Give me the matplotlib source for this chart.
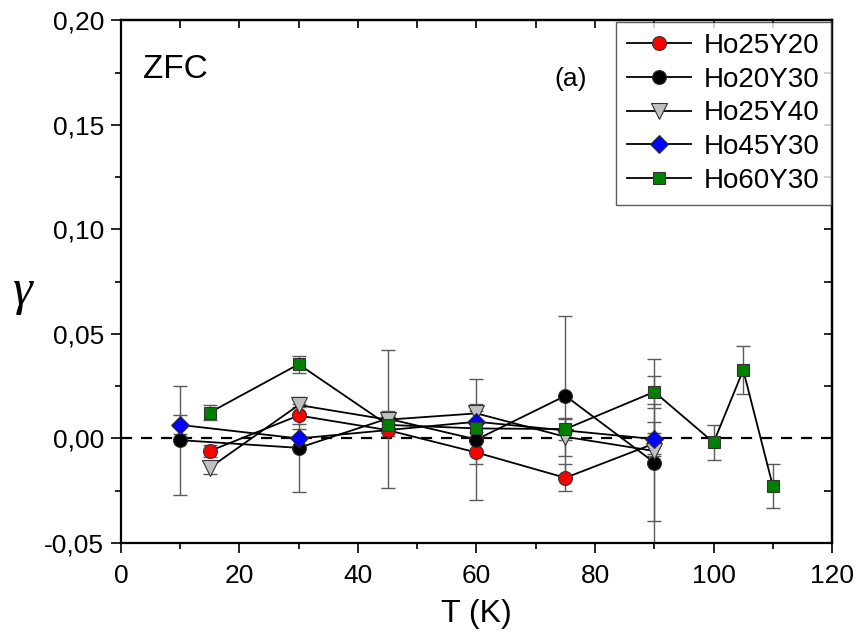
import numpy as np
import matplotlib
matplotlib.use("Agg")
import matplotlib.pyplot as plt
from matplotlib.ticker import MultipleLocator, FuncFormatter

plt.rcParams['font.family'] = ['Liberation Sans', 'DejaVu Sans']

# data (gamma vs T, ZFC)
t_red = [15, 30, 45, 60, 75, 90]
g_red = [-0.006, 0.011, 0.004, -0.0067, -0.0188, -0.0024]
e_red = [0.003, 0.004, 0.003, 0.0053, 0.0065, 0.005]

t_blk = [10, 30, 45, 60, 75, 90]
g_blk = [-0.0008, -0.0045, 0.0095, -0.0005, 0.0204, -0.0115]
e_blk = [0.026, 0.021, 0.033, 0.029, 0.038, 0.028]

t_gry = [15, 30, 45, 60, 75, 90]
g_gry = [-0.014, 0.016, 0.009, 0.012, 0.0008, -0.006]
e_gry = [0.003, 0.004, 0.004, 0.0047, 0.009, 0.044]

t_blu = [10, 30, 60, 90]
g_blu = [0.0065, 0.0, 0.008, -0.0003]
e_blu = [0.0045, 0.0045, 0.005, 0.008]

t_grn = [15, 30, 45, 60, 75, 90, 100, 105, 110]
g_grn = [0.0124, 0.0355, 0.0065, 0.0048, 0.0045, 0.0223, -0.0019, 0.0327, -0.0228]
e_grn = [0.0036, 0.004, 0.004, 0.004, 0.005, 0.0075, 0.0085, 0.0115, 0.0105]

labels = ['Ho25Y20', 'Ho20Y30', 'Ho25Y40', 'Ho45Y30', 'Ho60Y30']

fig = plt.figure(figsize=(8.57, 6.34), dpi=100)
ax = fig.add_axes([0.141, 0.1435, 0.830, 0.8245])

ax.axhline(0, color='black', lw=1.6, ls=(0, (5, 4)), zorder=1)

series = [
    (t_red, g_red, e_red, 'o', 'red', 10),
    (t_blk, g_blk, e_blk, 'o', 'black', 10),
    (t_gry, g_gry, e_gry, 'v', '#c0c0c0', 11),
    (t_blu, g_blu, e_blu, 'D', 'blue', 9.5),
    (t_grn, g_grn, e_grn, 's', 'green', 9),
]
for (t, g, e, m, c, ms), lab in zip(series, labels):
    ax.errorbar(t, g, yerr=e, fmt='none', ecolor='#5a5a5a', elinewidth=1.0,
                capsize=5, capthick=1.0, zorder=2)
    ax.plot(t, g, color='black', lw=1.3, marker=m, ms=ms, mfc=c,
            mec='#333333', mew=0.8, label=lab, zorder=3)

ax.set_xlim(0, 120)
ax.set_ylim(-0.05, 0.20)
ax.xaxis.set_major_locator(MultipleLocator(20))
ax.xaxis.set_minor_locator(MultipleLocator(10))
ax.yaxis.set_major_locator(MultipleLocator(0.05))
ax.yaxis.set_minor_locator(MultipleLocator(0.025))
ax.yaxis.set_major_formatter(FuncFormatter(lambda v, p: f"{v:.2f}".replace('.', ',')))
ax.tick_params(which='both', direction='out', width=1.2, labelsize=19, top=False, right=False)
ax.tick_params(which='major', length=7, pad=5)
ax.tick_params(axis='x', which='major', pad=8)
ax.tick_params(which='minor', length=4)

# inward ticks on top and right
axr = ax.secondary_yaxis('right')
axr.yaxis.set_major_locator(MultipleLocator(0.025))
axr.tick_params(direction='in', length=6, width=1.2, labelright=False)
axt = ax.secondary_xaxis('top')
axt.xaxis.set_major_locator(MultipleLocator(10))
axt.tick_params(direction='in', length=6, width=1.2, labeltop=False)

for s in ax.spines.values():
    s.set_linewidth(1.6)
axr.spines['right'].set_linewidth(1.6)
axt.spines['top'].set_linewidth(1.6)

ax.set_xlabel('T (K)', fontsize=23, labelpad=8)
fig.text(22 / 857, 1 - 292 / 634, 'γ', fontsize=36, family='Liberation Serif',
         style='italic', ha='center', va='center')

ax.text(0.031, 0.889, 'ZFC', transform=ax.transAxes, fontsize=24)
ax.text(0.61, 0.874, '(a)', transform=ax.transAxes, fontsize=19)

leg = ax.legend(loc='upper right', fontsize=20, frameon=True, fancybox=False,
                edgecolor='#333333', handlelength=2.3, borderaxespad=0.05,
                labelspacing=0.28, handletextpad=0.45, borderpad=0.4)
leg.get_frame().set_linewidth(1.0)

fig.savefig('out.png', dpi=100)
